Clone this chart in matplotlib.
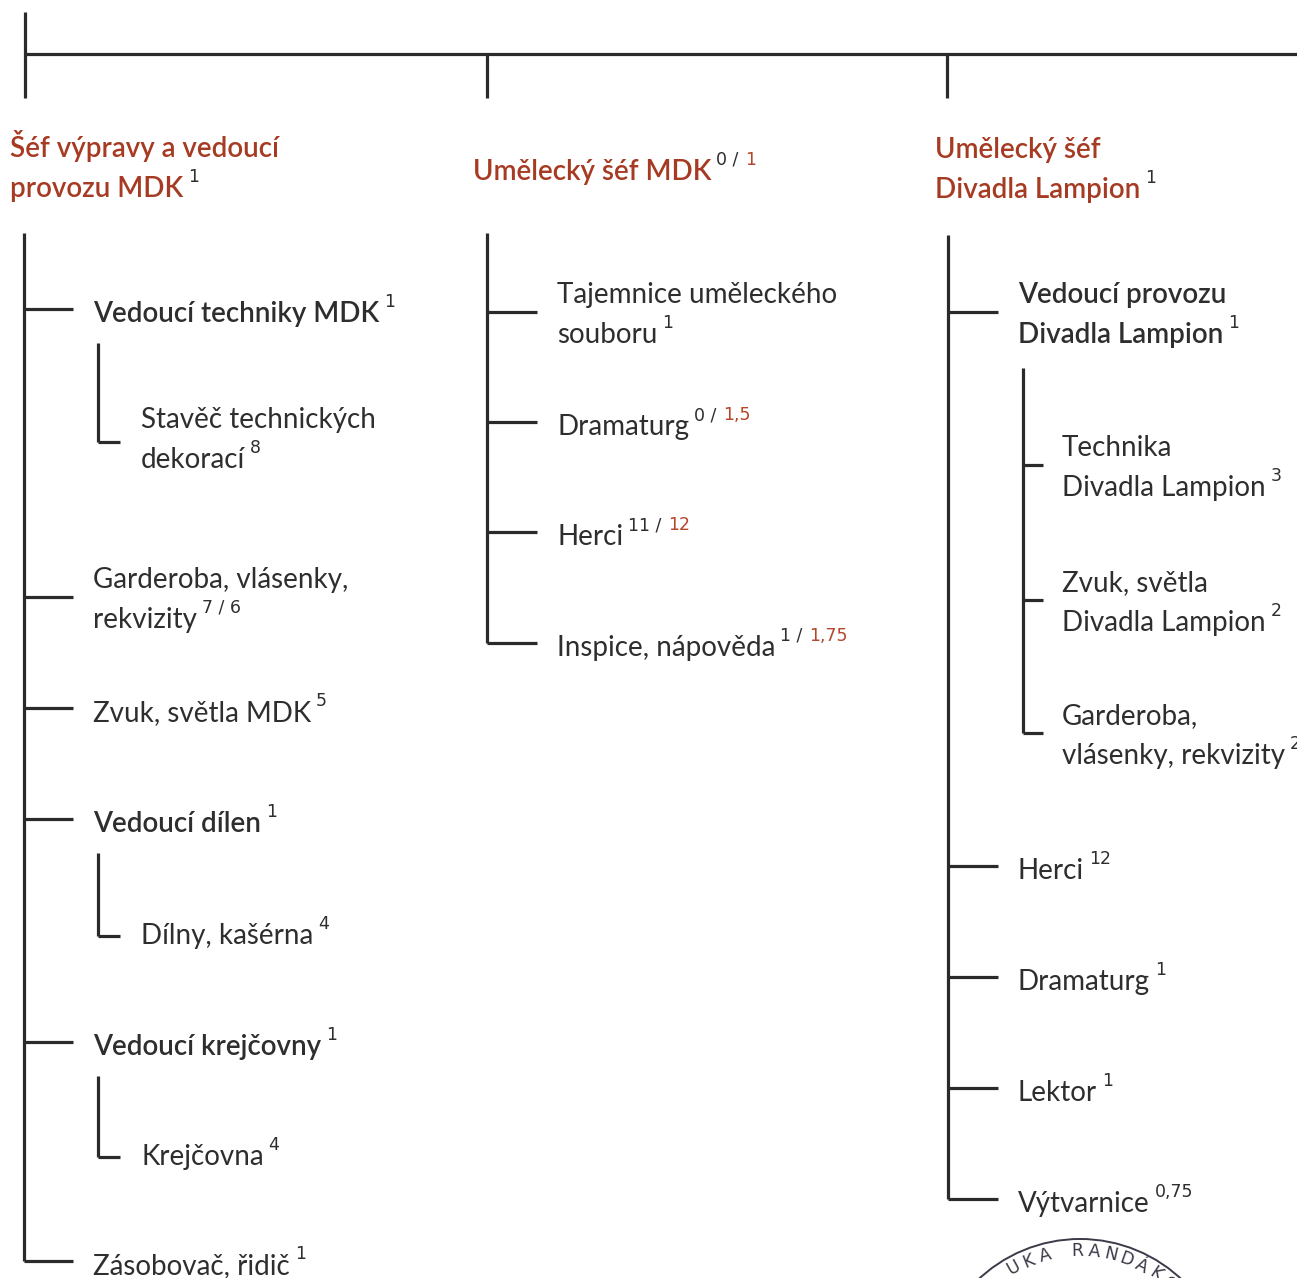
import matplotlib
matplotlib.use("Agg")
import matplotlib.pyplot as plt
from matplotlib.patches import Circle
import numpy as np

# ---------------- data ----------------
head_labels = ["Šéf výpravy a vedoucí\nprovozu MDK", "Umělecký šéf MDK", "Umělecký šéf\nDivadla Lampion"]
head_now = ["1", "0", "1"]
head_new = [None, "1", None]

col1_labels = ["Vedoucí techniky MDK", "Stavěč technických\ndekorací", "Garderoba, vlásenky,\nrekvizity",
               "Zvuk, světla MDK", "Vedoucí dílen", "Dílny, kašérna", "Vedoucí krejčovny", "Krejčovna",
               "Zásobovač, řidič"]
col1_now = ["1", "8", "7 / 6", "5", "1", "4", "1", "4", "1"]
col1_new = [None] * 9
col1_level = [0, 1, 0, 0, 0, 1, 0, 1, 0]
col1_head = [True, False, False, False, True, False, True, False, False]

col2_labels = ["Tajemnice uměleckého\nsouboru", "Dramaturg", "Herci", "Inspice, nápověda"]
col2_now = ["1", "0", "11", "1"]
col2_new = [None, "1,5", "12", "1,75"]
col2_level = [0, 0, 0, 0]
col2_head = [False] * 4

col3_labels = ["Vedoucí provozu\nDivadla Lampion", "Technika\nDivadla Lampion", "Zvuk, světla\nDivadla Lampion",
               "Garderoba,\nvlásenky, rekvizity", "Herci", "Dramaturg", "Lektor", "Výtvarnice"]
col3_now = ["1", "3", "2", "2", "12", "1", "1", "0,75"]
col3_new = [None] * 8
col3_level = [0, 1, 1, 1, 0, 0, 0, 0]
col3_head = [True, False, False, False, False, False, False, False]

stamp_text = "UKA RANDÁKO"

# ---------------- layout (pixels) ----------------
W, H = 1297, 1278
col1_branch = [309, 442, 597, 708, 819, 936, 1042, 1157, 1261]
col2_branch = [312, 422, 532, 643]
col3_branch = [312, 465, 600, 733, 866, 977, 1088, 1199]

RED = "#a63a22"
RED2 = "#b4462a"
INK = "#2e2e2e"
LINE = "#2a2a2a"
LW = 2.3
FS = 20
SFS = 12.5
FONT = "Lato"
SUPFONT = "DejaVu Sans"
LINE_SP = 40

fig = plt.figure(figsize=(W / 100, H / 100), dpi=100)
ax = fig.add_axes([0, 0, 1, 1])
ax.set_xlim(0, W)
ax.set_ylim(H, 0)
ax.axis("off")
fig.patch.set_facecolor("white")

renderer = fig.canvas.get_renderer()


def hline(x0, x1, y):
    ax.plot([x0, x1], [y, y], color=LINE, lw=LW, solid_capstyle="butt")


def vline(x, y0, y1):
    ax.plot([x, x], [y0, y1], color=LINE, lw=LW, solid_capstyle="butt")


def right_edge(t):
    bb = t.get_window_extent(renderer=renderer)
    return bb.x1


def label(x, y_first, text, now, new, color, weight):
    lines = text.split("\n")
    t = None
    for i, ln in enumerate(lines):
        t = ax.text(x, y_first + i * LINE_SP, ln, fontsize=FS, family=FONT, color=color,
                    weight=weight, va="baseline", ha="left")
    yb = y_first + (len(lines) - 1) * LINE_SP
    xs = right_edge(t) + 5
    s = ax.text(xs, yb - 15, now + (" / " if new else ""), fontsize=SFS, family=SUPFONT,
                color=INK, va="baseline", ha="left")
    if new:
        xs2 = right_edge(s) + 1
        ax.text(xs2, yb - 15, new, fontsize=SFS, family=SUPFONT, color=RED2,
                va="baseline", ha="left")


# top connector
vline(25, 12, 98)
hline(25, W + 5, 54)
vline(487, 54, 98)
vline(947, 54, 98)

# headers
head_x = [10, 473, 935]
head_y = [157, 180, 158]
for hx, hy, lab, n, nw in zip(head_x, head_y, head_labels, head_now, head_new):
    label(hx, hy, lab, n, nw, RED, "semibold")


def column(xv, top, branch_end, text_x, sub_xv, sub_end, sub_text_x, labels, now, new, level, headf, branch,
           sub_top_gap=34, sub_shift=0):
    main_idx = [i for i in range(len(labels)) if level[i] == 0]
    vline(xv, top, branch[main_idx[-1]])
    i = 0
    while i < len(labels):
        nlines = labels[i].count("\n") + 1
        if level[i] == 0:
            hline(xv, branch_end, branch[i])
            yb = branch[i] + (13 if nlines == 1 else -9)
            label(text_x, yb, labels[i], now[i], new[i], INK, "semibold" if headf[i] else "normal")
            j = i + 1
            kids = []
            while j < len(labels) and level[j] == 1:
                kids.append(j)
                j += 1
            if kids:
                vline(sub_xv, branch[i] + sub_top_gap, branch[kids[-1]])
                for k in kids:
                    hline(sub_xv, sub_end, branch[k])
                    nl = labels[k].count("\n") + 1
                    ykb = branch[k] + (13 if nl == 1 else -9) + sub_shift
                    label(sub_text_x, ykb, labels[k], now[k], new[k], INK, "normal")
            i = j
        else:
            i += 1


column(24, 233, 73, 93, 98, 120, 141, col1_labels, col1_now, col1_new, col1_level, col1_head, col1_branch,
       sub_top_gap=34, sub_shift=-5)
column(487, 233, 537, 557, None, None, None, col2_labels, col2_now, col2_new, col2_level, col2_head, col2_branch)
column(948, 235, 998, 1018, 1023, 1043, 1062, col3_labels, col3_now, col3_new, col3_level, col3_head,
       col3_branch, sub_top_gap=56)

# stamp (partially visible at the bottom edge)
cx, cy, r = 1080, 1387, 148
ax.add_patch(Circle((cx, cy), r, fill=False, ec="#3a3a48", lw=1.4))
rt = 136
step = 7.0
start = -29
for i, ch in enumerate(stamp_text):
    a = start + i * step
    th = np.deg2rad(a)
    ax.text(cx + rt * np.sin(th), cy - rt * np.cos(th), ch, fontsize=12.5, family="DejaVu Sans",
            color="#3a3a48", rotation=-a, ha="center", va="center", rotation_mode="anchor")

fig.savefig("out.png", dpi=100, facecolor="white")
